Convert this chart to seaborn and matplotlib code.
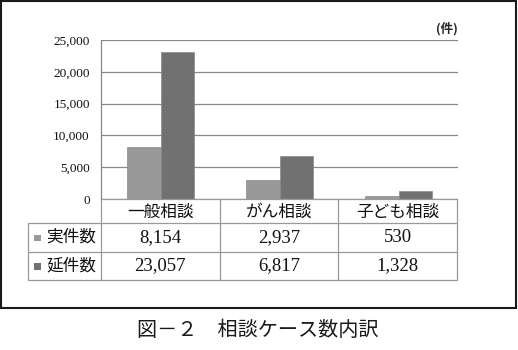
import matplotlib
matplotlib.use("Agg")
import matplotlib.pyplot as plt
import seaborn as sns
import pandas as pd
from matplotlib.patches import Rectangle
from matplotlib.lines import Line2D

categories = ["一般相談", "がん相談", "子ども相談"]
series_names = ["実件数", "延件数"]
jitsu = [8154, 2937, 530]
nobe = [23057, 6817, 1328]
colors = ["#999999", "#717171"]
yticks = [0, 5000, 10000, 15000, 20000, 25000]
unit_label = "(件)"
title = "図－２　相談ケース数内訳"

sns.set_theme(style="white")
plt.rcParams["font.family"] = ["Liberation Serif", "Noto Sans CJK JP"]

W, H = 518, 350
fig = plt.figure(figsize=(W / 100, H / 100), dpi=100)

def fx(px):
    return px / W

def fy(py):
    return 1 - py / H

ax_l, ax_r, ax_t, ax_b = 101, 458, 40, 199
ax = fig.add_axes([fx(ax_l), fy(ax_b), fx(ax_r - ax_l), (ax_b - ax_t) / H])

df = pd.DataFrame({
    "category": categories * 2,
    "series": [series_names[0]] * 3 + [series_names[1]] * 3,
    "value": jitsu + nobe,
})
sns.barplot(data=df, x="category", y="value", hue="series", palette=colors,
            width=0.57, gap=0, ax=ax, legend=False, edgecolor="#8a8a8a", linewidth=0.5)

ax.set_xlim(-0.5, 2.5)
ax.set_ylim(0, 25000)
ax.set_yticks(yticks)
ax.set_yticklabels([f"{v:,}" for v in yticks], fontsize=9.5, color="#111111")
ax.tick_params(axis="y", length=0, pad=8)
ax.set_xticks([])
ax.set_xlabel("")
ax.set_ylabel("")
ax.yaxis.grid(True, color="#888888", linewidth=0.9)
ax.set_axisbelow(True)
for s in ["top", "right", "bottom"]:
    ax.spines[s].set_visible(False)
ax.spines["left"].set_color("#888888")
ax.spines["left"].set_linewidth(0.9)

ax.text(1.0, 1.025, unit_label, transform=ax.transAxes, ha="right", va="bottom",
        fontsize=9, fontweight="bold", family=["Noto Sans CJK JP"])

# overlay in pixel coordinates for table and frame
ov = fig.add_axes([0, 0, 1, 1], facecolor="none")
ov.set_xlim(0, W)
ov.set_ylim(H, 0)
ov.axis("off")

n = len(categories)
col_x = [ax_l + i * (ax_r - 1 - ax_l) / n for i in range(n + 1)]
row_y = [199, 223, 252, 280]
tbl_left = 28
lc = "#999999"
lw = 0.9
ov.add_line(Line2D([col_x[0], col_x[-1]], [row_y[0], row_y[0]], color=lc, lw=lw))
for y in row_y[1:]:
    ov.add_line(Line2D([tbl_left, col_x[-1]], [y, y], color=lc, lw=lw))
for x in col_x:
    ov.add_line(Line2D([x, x], [row_y[0], row_y[-1]], color=lc, lw=lw))
ov.add_line(Line2D([tbl_left, tbl_left], [row_y[1], row_y[-1]], color=lc, lw=lw))

txt_color = "#111111"
fam = ["Liberation Serif", "Noto Sans CJK JP"]
for i, c in enumerate(categories):
    cx = (col_x[i] + col_x[i + 1]) / 2
    ov.text(cx, (row_y[0] + row_y[1]) / 2 + 1, c, ha="center", va="center",
            fontsize=12, color=txt_color, family=["Noto Sans CJK JP"])
for r, (name, vals) in enumerate(zip(series_names, [jitsu, nobe])):
    yc = (row_y[r + 1] + row_y[r + 2]) / 2
    ov.add_patch(Rectangle((34, yc - 3), 6.5, 6.5, facecolor=colors[r], edgecolor="none"))
    ov.text(46, yc, name, ha="left", va="center", fontsize=12, color=txt_color,
            family=["Noto Sans CJK JP"])
    for i, v in enumerate(vals):
        cx = (col_x[i] + col_x[i + 1]) / 2
        ov.text(cx, yc, f"{v:,}", ha="center", va="center", fontsize=13.5,
                color=txt_color, family=fam)

ov.add_patch(Rectangle((1, 1), 515, 307, facecolor="none", edgecolor="#1a1a1a", lw=1.5))

ov.text(258, 331, title, ha="center", va="center", fontsize=14.5, color="#1a1a1a",
        family=["Noto Sans CJK JP"])

fig.savefig("out.png", dpi=100, facecolor="white")
